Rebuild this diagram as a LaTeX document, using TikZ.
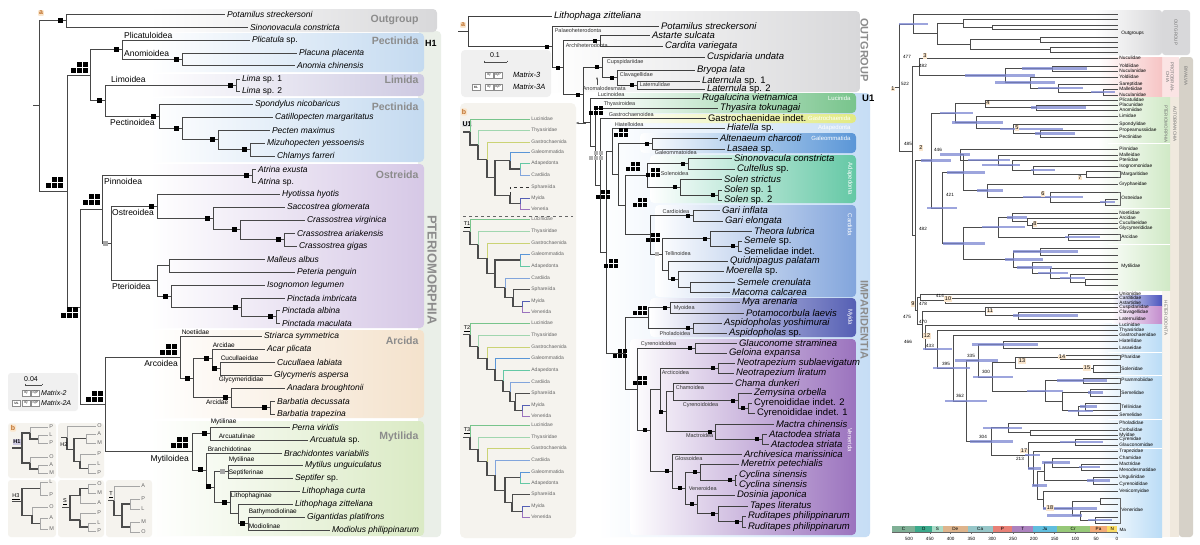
\documentclass[tikz,border=0pt]{standalone}
\usepackage{fontspec}
\setmainfont{Liberation Sans}
\usetikzlibrary{positioning,calc,arrows.meta}

\definecolor{ogGray}{RGB}{216,216,218}
\definecolor{pecBlue}{RGB}{196,218,240}
\definecolor{limLav}{RGB}{206,202,226}
\definecolor{ostLav}{RGB}{214,200,230}
\definecolor{arcTan}{RGB}{244,226,204}
\definecolor{mytGrn}{RGB}{218,234,196}
\definecolor{ptCol}{RGB}{234,239,232}
\definecolor{lblOr}{RGB}{190,110,40}
\definecolor{lblBg}{RGB}{250,230,205}
\definecolor{insBg}{RGB}{245,243,238}
\definecolor{impBlue}{RGB}{198,221,245}
\definecolor{lucGrn}{RGB}{120,196,140}
\definecolor{gasYel}{RGB}{226,234,130}
\definecolor{galBlue}{RGB}{90,150,215}
\definecolor{adTeal}{RGB}{100,200,165}
\definecolor{cdBlue}{RGB}{130,165,220}
\definecolor{myNavy}{RGB}{85,95,180}
\definecolor{vePur}{RGB}{155,115,190}
\definecolor{hpdBlue}{RGB}{125,135,210}
\definecolor{proPink}{RGB}{246,196,196}
\definecolor{ptGrn}{RGB}{208,233,198}
\definecolor{autoCol}{RGB}{240,233,222}
\definecolor{bivCol}{RGB}{214,209,200}
\definecolor{hetBlue}{RGB}{186,220,246}
\definecolor{cdDark}{RGB}{75,85,190}
\definecolor{anPur}{RGB}{195,140,205}
\definecolor{tC}{RGB}{128,176,150}
\definecolor{tO}{RGB}{60,170,140}
\definecolor{tS}{RGB}{170,220,200}
\definecolor{tD}{RGB}{222,180,140}
\definecolor{tCa}{RGB}{150,198,200}
\definecolor{tP}{RGB}{232,128,118}
\definecolor{tT}{RGB}{172,130,190}
\definecolor{tJ}{RGB}{96,190,222}
\definecolor{tK}{RGB}{150,200,120}
\definecolor{tPg}{RGB}{242,170,120}
\definecolor{tN}{RGB}{250,220,100}

\newcommand{\fsz}[1]{\fontsize{#1pt}{#1pt}\selectfont}
\newcommand{\lf}[5][sp]{\coordinate (#2) at (#3,#4); \node[#1,anchor=west] (#2t) at (#2) {#5};}
\NewDocumentCommand{\clade}{O{br} O{#1} m m m m}{%
  \path let \p1=(#5), \p2=(#6) in (#4pt,{0.5*(\y1)+0.5*(\y2)}) coordinate (#3);
  \draw[#1] (#3) |- (#5);
  \draw[#2] (#3) |- (#6);}
\newcommand{\sqb}[2][black]{\fill[#1] ($(#2)+(-8.5,-2.5)$) rectangle ++(5,5);}
\newcommand{\sqm}[2][black]{\fill[#1] ($(#2)+(-7,-2)$) rectangle ++(4,4);}
\newcommand{\qd}[3][black]{\foreach \i/\j in {0/0,1/0,2/0,0/1,1/1}{\fill[#1] ({#2-6*\i-5},{#3-6*\j-5}) rectangle ++(5,5);}}
\newcommand{\qsm}[3][black]{\foreach \i/\j in {0/0,1/0,2/0,0/1,1/1}{\fill[#1] ({#2-5*\i-4},{#3-5*\j-4}) rectangle ++(4,4);}}

\tikzset{
  br/.style={draw=black!72, line width=0.75pt},
  mbr/.style={draw=black!75, line width=0.9pt},
  rbr/.style={draw=black!70, line width=0.6pt},
  ilf/.style={draw=black!35, line width=0.45pt},
  inn/.style={draw=black!70, line width=1.1pt},
  iLu/.style={draw=lucGrn, line width=0.5pt},
  iTh/.style={draw=lucGrn!70, line width=0.5pt},
  iGs/.style={draw=gasYel!90!black, line width=0.5pt},
  iGa/.style={draw=galBlue, line width=0.5pt},
  iAd/.style={draw=adTeal, line width=0.5pt},
  iCa/.style={draw=cdBlue, line width=0.5pt},
  iSp/.style={draw=black!80, line width=0.8pt, dashed},
  iSk/.style={draw=black!70, line width=0.8pt},
  iMy/.style={draw=myNavy, line width=0.8pt},
  iVe/.style={draw=vePur, line width=0.5pt},
  sp/.style={font={\fsz{8.5}\itshape}, inner sep=1.8pt},
  spu/.style={font={\fsz{8.5}}, inner sep=1.8pt},
  msp/.style={font={\fsz{9.5}\itshape}, inner sep=1.8pt},
  mspu/.style={font={\fsz{9.5}}, inner sep=1.8pt},
  sup/.style={font={\fsz{8.5}}, inner sep=1pt},
  fam/.style={font={\fsz{6.5}}, inner sep=0.6pt},
  mfam/.style={font={\fsz{5.5}}, text=black!80, inner sep=0.6pt},
  clade/.style={font={\fsz{10.5}\bfseries}, text=black!45, anchor=east},
  band/.style={font={\fsz{6}}, text=white, anchor=east},
  vband/.style={font={\fsz{6}}, text=white, rotate=-90},
  bl/.style={font={\fsz{5.5}}, text=black!60, inner sep=1.2pt},
  il/.style={font={\fsz{5}}, text=black!60, inner sep=1.2pt},
  rlab/.style={font={\fsz{4.8}}, anchor=west, inner sep=1.2pt},
  rage/.style={font={\fsz{4.6}}, inner sep=0.3pt},
  rid/.style={font={\fsz{5.5}}, fill=lblBg, inner sep=0.6pt},
  hpd/.style={draw=hpdBlue, line width=2.5pt, opacity=0.75},
  lgb/.style={draw=black!45, fill=white, font={\fsz{3.2}}, inner sep=0.4pt, minimum width=8pt, minimum height=6.5pt},
  big/.style={font={\fsz{11}\bfseries}, text=black!45, rotate=-90},
  tax/.style={font={\fsz{4.6}}, inner sep=0.3pt},
  abox/.style={font={\fsz{7}\bfseries}, text=lblOr, fill=lblBg, inner sep=1pt, rounded corners=1pt},
  vsm/.style={font={\fsz{4.5}}, text=black!55, rotate=-90, align=center},
}

\begin{document}
\begin{tikzpicture}[x=1pt,y=-1pt]
\useasboundingbox (0,0) rectangle (1200,544);
\fill[white] (0,0) rectangle (1200,544);

% ===== panel a (left): clade bands
\fill[ptCol,rounded corners=4pt] (418,31) rectangle (441,537);
\shade[left color=white,right color=ogGray,rounded corners=4pt] (150,9) rectangle (437,32);
\shade[left color=white,right color=pecBlue,rounded corners=4pt] (150,33) rectangle (424,72);
\shade[left color=white,right color=limLav,rounded corners=4pt] (150,74) rectangle (424,96);
\shade[left color=white,right color=pecBlue,rounded corners=4pt] (150,98) rectangle (424,162);
\shade[left color=white,right color=ostLav,rounded corners=4pt] (150,164) rectangle (424,328);
\shade[left color=white,right color=arcTan,rounded corners=4pt] (150,330) rectangle (424,418);
\shade[left color=white,right color=mytGrn,rounded corners=4pt] (150,421) rectangle (424,536);

% legend and panel b (left)
\fill[black!6,rounded corners=3pt] (8,373) rectangle (78,411);
\foreach \bx/\by/\ex/\ey in {8/423/56/478, 58/423/104/478, 8/480/56/537, 58/480/104/537, 106/480/152/537}
  {\fill[insBg,rounded corners=3pt] (\bx,\by) rectangle (\ex,\ey);}

% ===== left tree
\lf{lPot}{225}{14}{Potamilus streckersoni}
\lf{lSin}{248}{27}{Sinonovacula constricta}
\lf[spu]{lPli}{250}{40}{\textit{Plicatula} sp.}
\lf{lPla}{297}{53}{Placuna placenta}
\lf{lAno}{295}{65}{Anomia chinensis}
\lf[spu]{lLi1}{240}{79}{\textit{Lima} sp. 1}
\lf[spu]{lLi2}{240}{91}{\textit{Lima} sp. 2}
\lf{lSpo}{253}{104}{Spondylus nicobaricus}
\lf{lCat}{273}{117}{Catillopecten margaritatus}
\lf{lPec}{270}{130}{Pecten maximus}
\lf{lMiz}{265}{143}{Mizuhopecten yessoensis}
\lf{lChl}{275}{156}{Chlamys farreri}
\lf{lAex}{256}{169}{Atrina exusta}
\lf[spu]{lAsp}{256}{182}{\textit{Atrina} sp.}
\lf{lHyo}{280}{194}{Hyotissa hyotis}
\lf{lSac}{285}{207}{Saccostrea glomerata}
\lf{lCvi}{305}{220}{Crassostrea virginica}
\lf{lCar}{295}{233}{Crassostrea ariakensis}
\lf{lCgi}{297}{246}{Crassostrea gigas}
\lf{lMal}{265}{259}{Malleus albus}
\lf{lPet}{295}{272}{Peteria penguin}
\lf{lIso}{265}{285}{Isognomon legumen}
\lf{lPim}{285}{298}{Pinctada imbricata}
\lf{lPal}{280}{310}{Pinctada albina}
\lf{lPma}{280}{323}{Pinctada maculata}
\lf{lStr}{262}{336}{Striarca symmetrica}
\lf{lAca}{265}{349}{Acar plicata}
\lf{lCuc}{275}{362}{Cucullaea labiata}
\lf{lGly}{272}{375}{Glycymeris aspersa}
\lf{lAna}{285}{388}{Anadara broughtonii}
\lf{lBde}{275}{401}{Barbatia decussata}
\lf{lBtr}{275}{414}{Barbatia trapezina}
\lf{lPer}{290}{427}{Perna viridis}
\lf[spu]{lArc}{308}{440}{\textit{Arcuatula} sp.}
\lf{lBra}{282}{453}{Brachidontes variabilis}
\lf{lMyt}{303}{465}{Mytilus unguiculatus}
\lf[spu]{lSep}{293}{478}{\textit{Septifer} sp.}
\lf{lLcu}{300}{491}{Lithophaga curta}
\lf{lLzi}{293}{504}{Lithophaga zitteliana}
\lf{lGig}{305}{517}{Gigantidas platifrons}
\lf{lMod}{330}{530}{Modiolus philippinarum}

\clade{nOut}{66}{lPot}{lSin}
\clade{nAnm}{182}{lPla}{lAno}
\clade{nPli}{122}{lPli}{nAnm}
\clade{nLim}{236}{lLi1}{lLi2}
\clade{nP5}{250}{lMiz}{lChl}
\clade{nP4}{218}{lPec}{nP5}
\clade{nP3}{182}{lCat}{nP4}
\clade{nPec}{159}{lSpo}{nP3}
\clade{nLP}{105}{nLim}{nPec}
\clade{nA}{90}{nPli}{nLP}
\clade{nAtr}{252}{lAex}{lAsp}
\clade{nO4}{284}{lCar}{lCgi}
\clade{nO3}{240}{lCvi}{nO4}
\clade{nO2}{213}{lSac}{nO3}
\clade{nOst}{157}{lHyo}{nO2}
\clade{nMP}{169}{lMal}{lPet}
\clade{nPT4}{276}{lPal}{lPma}
\clade{nPT3}{241}{lPim}{nPT4}
\clade{nPT2}{171}{lIso}{nPT3}
\clade{nPte}{157}{nMP}{nPT2}
\clade{nOP}{111}{nOst}{nPte}
\clade{nB1}{102}{nAtr}{nOP}
\clade{nCG}{220}{lCuc}{lGly}
\clade{nAR3}{212}{lAca}{nCG}
\clade{nAR5}{270}{lBde}{lBtr}
\clade{nAR4}{231}{lAna}{nAR5}
\clade{nAR2}{193}{nAR3}{nAR4}
\clade{nArc}{180}{lStr}{nAR2}
\clade{nMY1}{210}{lPer}{lArc}
\clade{nMYa}{228}{lMyt}{lSep}
\clade{nMYd}{248}{lGig}{lMod}
\clade{nMYc}{238}{lLzi}{nMYd}
\clade{nMYb}{230}{lLcu}{nMYc}
\clade{nMY3}{214}{nMYa}{nMYb}
\clade{nMY2}{206}{lBra}{nMY3}
\clade{nMyt}{192}{nMY1}{nMY2}
\clade{nB2}{105}{nArc}{nMyt}
\clade{nB}{80}{nB1}{nB2}
\clade{nI}{67}{nA}{nB}
\clade{nRoot}{39}{nOut}{nI}
\draw[br] (nRoot) -- ++(-6,0);

% support squares
\foreach \n in {nOut,nPli,nAnm,nLim,nLP,nPec,nP3,nP4,nP5,nAtr,nOst,nO2,nO3,nO4,nPT2,nPT3,nPT4,nAR2,nAR3,nCG,nAR4,nAR5,nMY1,nMY2,nMY3,nMYb,nMYd}{\sqb{\n}}
\sqb[black!35]{nOP}
\sqb[black!35]{nMYa}
\qd{88}{73}
\qd{63}{188}
\qd{100}{205}
\qd{78}{318}
\qd{103}{402}
\qd{177}{355}
\qd{188}{448}

% taxon rank labels
\node[sup,anchor=south west] (tPlic) at (123,39.5) {Plicatuloidea};
\node[sup,anchor=south west] (tAnom) at (123,58) {Anomioidea};
\node[sup,anchor=south west] (tLimo) at (110,84) {Limoidea};
\node[sup,anchor=north west] (tPect) at (109,118) {Pectinoidea};
\node[sup,anchor=north west] (tPinn) at (103,177) {Pinnoidea};
\node[sup,anchor=north west] (tOstr) at (111,208) {Ostreoidea};
\node[sup,anchor=north west] (tPter) at (111,282) {Pterioidea};
\node[fam,anchor=south west] (tNoet) at (181,335) {Noetiidae};
\node[sup,anchor=north east] (tArco) at (179,359) {Arcoidea};
\node[fam,anchor=south west] (tArc1) at (212,348.5) {Arcidae};
\node[fam,anchor=south west] (tCucu) at (220,361) {Cucullaeidae};
\node[fam,anchor=north west] (tGlyc) at (218,376) {Glycymerididae};
\node[fam,anchor=north east] (tArc2) at (229,399) {Arcidae};
\node[sup,anchor=north east] (tMyto) at (190,454) {Mytiloidea};
\node[fam,anchor=south west] (tMyt1) at (210,426) {Mytilinae};
\node[fam,anchor=south west] (tArcu) at (218,439.5) {Arcuatulinae};
\node[fam,anchor=south west] (tBran) at (207,452) {Branchidotinae};
\node[fam,anchor=south west] (tMyt2) at (228,464) {Mytilinae};
\node[fam,anchor=south west] (tSept) at (228,477) {Septiferinae};
\node[fam,anchor=north west] (tLith) at (230,492) {Lithophaginae};
\node[fam,anchor=south west] (tBath) at (248,516) {Bathymodiolinae};
\node[fam,anchor=south west] (tModi) at (248,529) {Modiolinae};

\node[clade] (cOut) at (422,20) {Outgroup};
\node[clade] (cPec1) at (422,41) {Pectinida};
\node[clade] (cLim) at (422,80) {Limida};
\node[clade] (cPec2) at (422,107) {Pectinida};
\node[clade] (cOst) at (422,175) {Ostreida};
\node[clade] (cArc) at (422,341) {Arcida};
\node[clade] (cMyt) at (422,437) {Mytilida};
\node[font={\fsz{9}\bfseries}, anchor=west, inner sep=0pt] (cH1) at (425,43) {H1};
\node[big,font={\fsz{13}\bfseries}] (cPterio) at (432,270) {PTERIOMORPHIA};
\node[abox] (aL) at (41,13) {a};

% legend (left)
\node[font={\fsz{7}}] (sbL) at (31,379) {0.04};
\draw[black!70] (25,385) -- (42,385) (25,383.5) -- (25,385) (42,383.5) -- (42,385);
\node[lgb] (lq1) at (26,393) {IQ};
\node[lgb] (lp1) at (35.5,393) {IQP};
\node[font={\fsz{7}\itshape}, anchor=west, inner sep=1pt] (lm2) at (40,393) {Matrix-2};
\node[lgb] (lm0) at (16.5,403) {ML};
\node[lgb] (lq2) at (26,403) {IQ};
\node[lgb] (lp2) at (35.5,403) {IQP};
\node[font={\fsz{7}\itshape}, anchor=west, inner sep=1pt] (lm2a) at (40,403) {Matrix-2A};

% panel b (left): hypotheses
\node[abox] (bL) at (13,428) {b};
\lf[bl]{hA1}{48}{427}{P}
\lf[bl]{hA2}{48}{435}{L}
\lf[bl]{hA3}{48}{443}{P}
\lf[bl]{hA4}{48}{457}{O}
\lf[bl]{hA5}{48}{465}{A}
\lf[bl]{hA6}{48}{473}{M}
\clade[ilf]{h1a}{38}{hA2}{hA3}
\clade[ilf][inn]{h1b}{30}{hA1}{h1a}
\clade[ilf]{h1c}{38}{hA5}{hA6}
\clade[ilf][inn]{h1d}{30}{hA4}{h1c}
\clade[inn]{h1r}{22}{h1b}{h1d}
\draw[inn] (h1r) -- ++(-10,0);
\node[font={\fsz{5.5}\bfseries}, fill=limLav, inner sep=0.8pt] (bH1) at (17,442) {H1};
\lf[bl]{hB1}{96}{426}{O}
\lf[bl]{hB2}{96}{434}{A}
\lf[bl]{hB3}{96}{443}{M}
\lf[bl]{hB4}{96}{454}{P}
\lf[bl]{hB5}{96}{464}{L}
\lf[bl]{hB6}{96}{473}{P}
\clade[ilf]{h2a}{86}{hB2}{hB3}
\clade[ilf]{h2b}{88}{hB5}{hB6}
\clade[ilf][inn]{h2c}{80}{hB4}{h2b}
\clade[inn]{h2d}{74}{h2a}{h2c}
\clade[ilf][inn]{h2r}{67}{hB1}{h2d}
\draw[inn] (h2r) -- ++(-6,0);
\node[font={\fsz{5.5}}, inner sep=0.5pt] (bH2) at (64,445) {H2};
\lf[bl]{hC1}{48}{482}{L}
\lf[bl]{hC2}{48}{495}{P}
\lf[bl]{hC3}{48}{507}{O}
\lf[bl]{hC4}{48}{518}{A}
\lf[bl]{hC5}{48}{529}{M}
\clade[ilf]{h3a}{40}{hC1}{hC2}
\clade[ilf]{h3b}{40}{hC4}{hC5}
\clade[ilf][inn]{h3c}{32}{hC3}{h3b}
\clade[inn]{h3r}{22}{h3a}{h3c}
\draw[inn] (h3r) -- ++(-10,0);
\node[font={\fsz{5.5}}, inner sep=0.5pt] (bH3) at (16,497) {\underline{H3}};
\lf[bl]{sA1}{96}{484}{O}
\lf[bl]{sA2}{96}{493}{M}
\lf[bl]{sA3}{96}{503}{A}
\lf[bl]{sA4}{96}{513}{P}
\lf[bl]{sA5}{96}{523}{L}
\lf[bl]{sA6}{96}{531}{P}
\clade[ilf]{bsa}{88}{sA1}{sA2}
\clade[inn][ilf]{bsb}{80}{bsa}{sA3}
\clade[ilf]{bsc}{88}{sA5}{sA6}
\clade[ilf][inn]{bsd}{80}{sA4}{bsc}
\clade[inn]{bsr}{70}{bsb}{bsd}
\draw[inn] (bsr) -- ++(-8,0);
\node[font={\fsz{5.5}}, inner sep=0.5pt] (bS) at (65,502) {\underline{S}};
\lf[bl]{tA1}{140}{486}{A}
\lf[bl]{tA2}{140}{499}{P}
\lf[bl]{tA3}{140}{509}{L}
\lf[bl]{tA4}{140}{522}{M}
\lf[bl]{tA5}{140}{532}{O}
\clade[ilf]{bta}{130}{tA2}{tA3}
\clade[ilf]{btb}{130}{tA4}{tA5}
\clade[inn]{btc}{122}{bta}{btb}
\clade[ilf][inn]{btr}{114}{tA1}{btc}
\draw[inn] (btr) -- ++(-6,0);
\node[font={\fsz{5.5}}, inner sep=0.5pt] (bT) at (111,495) {\underline{T}};

% ===== panel a (middle): bands
\shade[left color=white,right color=ogGray,rounded corners=4pt] (545,11) rectangle (860,92);
\shade[left color=white,right color=impBlue,rounded corners=4pt] (598,93) rectangle (870,537);
\shade[left color=white,right color=lucGrn,rounded corners=4pt] (598,93) rectangle (856,113);
\shade[left color=white,right color=gasYel,rounded corners=4pt] (610,114) rectangle (856,123);
\shade[left color=white,right color=galBlue,rounded corners=4pt] (640,133) rectangle (856,153);
\shade[left color=white,right color=adTeal,rounded corners=4pt] (650,155) rectangle (856,203);
\shade[left color=white,right color=cdBlue,rounded corners=4pt] (655,205) rectangle (856,297);
\shade[left color=white,right color=myNavy,rounded corners=4pt] (650,298) rectangle (856,337);
\shade[left color=white,right color=vePur,rounded corners=4pt] (630,339) rectangle (856,535);
\node[band] (bdLuc) at (854,98) {Lucinida};
\node[band] (bdGas) at (854,118.5) {Gastrochaenida};
\node[band] (bdAd1) at (854,128) {Adapedonta};
\node[band] (bdGal) at (854,138) {Galeommatida};
\node[vband] (bdAd2) at (850,179) {Adapedonta};
\node[vband] (bdCar) at (850,225) {Cardiida};
\node[vband] (bdMyi) at (850,317) {Myida};
\node[vband] (bdVen) at (850,440) {Venerida};
\node[big] (bgOut) at (864.5,50) {OUTGROUP};
\node[big] (bgImp) at (864.5,320) {IMPARIDENTIA};
\node[font={\fsz{9.5}\bfseries}, anchor=west, inner sep=0pt] (bgU1) at (862,98) {U1};

% legend (middle) and panel b box
\fill[black!6,rounded corners=4pt] (461,50) rectangle (551,97);
\fill[insBg,rounded corners=5pt] (460,103) rectangle (576,538);
\node[font={\fsz{7}}] (sbM) at (495,55) {0.1};
\draw[black!70] (484,62) -- (507,62) (484,60.5) -- (484,62) (507,60.5) -- (507,62);
\node[lgb] (mq1) at (489,75) {IQ};
\node[lgb] (mp1) at (498,75) {IQP};
\node[font={\fsz{7.5}\itshape}, anchor=west, inner sep=1pt] (mm3) at (512,75) {Matrix-3};
\node[lgb] (mm0) at (476,87) {ML};
\node[lgb] (mq2) at (489,87) {IQ};
\node[lgb] (mp2) at (498,87) {IQP};
\node[font={\fsz{7.5}\itshape}, anchor=west, inner sep=1pt] (mm3a) at (512,87) {Matrix-3A};

% ===== middle tree
\lf[msp]{mZit}{552}{16}{Lithophaga zitteliana}
\lf[msp]{mPot}{659}{26}{Potamilus streckersoni}
\lf[msp]{mAst}{650}{35}{Astarte sulcata}
\lf[msp]{mCar}{663}{46}{Cardita variegata}
\lf[msp]{mCus}{705}{57}{Cuspidaria undata}
\lf[msp]{mBry}{695}{70}{Bryopa lata}
\lf[mspu]{mLa1}{700}{81}{\textit{Laternula} sp. 1}
\lf[mspu]{mLa2}{705}{89}{\textit{Laternula} sp. 2}
\lf[msp]{mRug}{700}{98}{Rugalucina vietnamica}
\lf[msp]{mThy}{718}{108}{Thyasira tokunagai}
\lf[mspu]{mGas}{706}{118}{Gastrochaenidae indet.}
\lf[mspu]{mHia}{725}{128}{\textit{Hiatella} sp.}
\lf[msp]{mAlt}{718}{138}{Altenaeum charcoti}
\lf[mspu]{mLas}{725}{149}{\textit{Lasaea} sp.}
\lf[msp]{mSin}{732}{158}{Sinonovacula constricta}
\lf[mspu]{mCul}{735}{169}{\textit{Cultellus} sp.}
\lf[msp]{mSst}{722}{179}{Solen strictus}
\lf[mspu]{mS1}{722}{190}{\textit{Solen} sp. 1}
\lf[mspu]{mS2}{722}{200}{\textit{Solen} sp. 2}
\lf[msp]{mGin}{720}{210}{Gari inflata}
\lf[msp]{mGel}{723}{221}{Gari elongata}
\lf[msp]{mThe}{752}{231}{Theora lubrica}
\lf[mspu]{mSem}{742}{241}{\textit{Semele} sp.}
\lf[mspu]{mSmi}{742}{251}{Semelidae indet.}
\lf[msp]{mQui}{728}{261}{Quidnipagus palatam}
\lf[mspu]{mMoe}{724}{271}{\textit{Moerella} sp.}
\lf[msp]{mScr}{735}{282}{Semele crenulata}
\lf[msp]{mMac}{730}{292}{Macoma calcarea}
\lf[msp]{mMya}{740}{302}{Mya arenaria}
\lf[msp]{mPol}{744}{313}{Potamocorbula laevis}
\lf[msp]{mAsy}{722}{323}{Aspidopholas yoshimurai}
\lf[mspu]{mAsp}{727}{333}{\textit{Aspidopholas} sp.}
\lf[msp]{mGla}{737}{343}{Glauconome straminea}
\lf[msp]{mGex}{727}{353}{Geloina expansa}
\lf[msp]{mNsu}{735}{363}{Neotrapezium sublaevigatum}
\lf[msp]{mNli}{734}{373}{Neotrapezium liratum}
\lf[msp]{mCha}{733}{383}{Chama dunkeri}
\lf[msp]{mZem}{752}{393}{Zemysina orbella}
\lf[mspu]{mCy2}{752}{403}{Cyrenoididae indet. 2}
\lf[mspu]{mCy1}{755}{413}{Cyrenoididae indet. 1}
\lf[msp]{mMch}{774}{424}{Mactra chinensis}
\lf[msp]{mAt1}{767}{434}{Atactodea striata}
\lf[msp]{mAt2}{769}{444}{Atactodea striata}
\lf[msp]{mArc}{742}{454}{Archivesica marissinica}
\lf[msp]{mMer}{739}{464}{Meretrix petechialis}
\lf[msp]{mCs1}{737}{475}{Cyclina sinensis}
\lf[msp]{mCs2}{737}{485}{Cyclina sinensis}
\lf[msp]{mDos}{735}{495}{Dosinia japonica}
\lf[msp]{mTap}{748}{506}{Tapes literatus}
\lf[msp]{mRu1}{746}{516}{Ruditapes philippinarum}
\lf[msp]{mRu2}{746}{527}{Ruditapes philippinarum}

\clade[mbr]{mnA3}{637}{mLa1}{mLa2}
\clade[mbr]{mnA2}{617}{mBry}{mnA3}
\clade[mbr]{mnA1}{602}{mCus}{mnA2}
\clade[mbr]{mnArch}{600}{mAst}{mCar}
\clade[mbr]{mnGal}{652}{mAlt}{mLas}
\clade[mbr]{mnSC}{688}{mSin}{mCul}
\clade[mbr]{mnSsp}{718}{mS1}{mS2}
\clade[mbr]{mnSol}{680}{mSst}{mnSsp}
\clade[mbr]{mnAdap}{647}{mnSC}{mnSol}
\clade[mbr]{mnGari}{693}{mGin}{mGel}
\clade[mbr]{mnSem}{738}{mSem}{mSmi}
\clade[mbr]{mnThe}{710}{mThe}{mnSem}
\clade[mbr]{mnT5}{690}{mScr}{mMac}
\clade[mbr]{mnT4}{678}{mMoe}{mnT5}
\clade[mbr]{mnT3}{668}{mQui}{mnT4}
\clade[mbr]{mnTel}{662}{mnThe}{mnT3}
\clade[mbr]{mnCard}{650}{mnGari}{mnTel}
\clade[mbr]{mnAC}{625}{mnAdap}{mnCard}
\clade[mbr]{mnGAC}{618}{mnGal}{mnAC}
\clade[mbr]{mnHGAC}{612}{mHia}{mnGAC}
\clade[mbr]{mnMyo}{670}{mMya}{mPol}
\clade[mbr]{mnPho}{693}{mAsy}{mAsp}
\clade[mbr]{mnMyida}{648}{mnMyo}{mnPho}
\clade[mbr]{mnCyr}{695}{mGla}{mGex}
\clade[mbr]{mnNeo}{718}{mNsu}{mNli}
\clade[mbr]{mnCyb}{748}{mCy2}{mCy1}
\clade[mbr]{mnZem}{738}{mZem}{mnCyb}
\clade[mbr]{mnCha}{673}{mCha}{mnZem}
\clade[mbr]{mnAt}{762}{mAt1}{mAt2}
\clade[mbr]{mnMac}{715}{mMch}{mnAt}
\clade[mbr]{mnCM}{666}{mnCha}{mnMac}
\clade[mbr]{mnACM}{660}{mnNeo}{mnCM}
\clade[mbr]{mnCyc}{735}{mCs1}{mCs2}
\clade[mbr]{mnMer}{700}{mMer}{mnCyc}
\clade[mbr]{mnRud}{742}{mRu1}{mRu2}
\clade[mbr]{mnTap}{718}{mTap}{mnRud}
\clade[mbr]{mnDos}{697}{mDos}{mnTap}
\clade[mbr]{mnVen}{685}{mnMer}{mnDos}
\clade[mbr]{mnGlo}{672}{mArc}{mnVen}
\clade[mbr]{mnV3}{650}{mnACM}{mnGlo}
\clade[mbr]{mnVener}{637}{mnCyr}{mnV3}
\clade[mbr]{mnMV}{625}{mnMyida}{mnVener}
\clade[mbr]{mnBig}{606}{mnHGAC}{mnMV}
\clade[mbr]{mnGas}{600}{mGas}{mnBig}
\clade[mbr]{mnThy}{595}{mThy}{mnGas}
\clade[mbr]{mnLuc}{590}{mRug}{mnThy}
\clade[mbr]{mnM3}{583}{mnA1}{mnLuc}
\clade[mbr]{mnM2}{563}{mnArch}{mnM3}
\clade[mbr]{mnM1}{552}{mPot}{mnM2}
\clade[mbr]{mnR}{468}{mZit}{mnM1}
\draw[mbr] (mnR) -- ++(-10,0);
\node[abox] (aM) at (463,25) {a};

\foreach \n in {mnM1,mnM2,mnArch,mnM3,mnA1,mnA2,mnA3,mnGal,mnSC,mnSol,mnSsp,mnGari,mnThe,mnSem,mnT4,mnMyo,mnPho,mnCyr,mnNeo,mnZem,mnCyb,mnMac,mnAt,mnMer,mnCyc,mnVen,mnDos,mnTap,mnRud,mnGlo,mnV3,mnCM}{\sqm{\n}}
\sqm[black!30]{mnTel}
\qsm{603}{115}
\qsm{628}{137}
\qsm[black!30]{603}{160}
\qsm{640}{171}
\qsm{660}{177}
\qsm{610}{199}
\qsm{647}{207}
\qsm{660}{242}
\qsm{618}{268}
\qsm{647}{315}
\qsm{627}{358}
\qsm{647}{385}

\node[mfam,anchor=north west] (mtPal) at (554,28) {Palaeoheterodonta};
\node[mfam,anchor=north west] (mtArc) at (565,42.5) {Archiheterodonta};
\node[mfam,anchor=north west] (mtCus) at (606,58.5) {Cupspidariidae};
\node[mfam,anchor=north west] (mtCla) at (619,71.5) {Clavagellidae};
\node[mfam,anchor=west] (mtLat) at (639,85) {Laternulidae};
\node[mfam,anchor=north west] (mtAno) at (582,86) {Anomalodesmata};
\coordinate (anoA) at (597,85);
\coordinate (anoB) at (597,77);
\draw[-{Stealth[length=2.5pt]}, black!70, line width=0.4pt] (anoA) -- (anoB);
\node[mfam,anchor=south west] (mtLuc) at (597,97) {Lucinoidea};
\node[mfam,anchor=south west] (mtThy) at (603,107) {Thyasiroidea};
\node[mfam,anchor=south west] (mtGas) at (608,117) {Gastrochaenoidea};
\node[mfam,anchor=south west] (mtHia) at (614,127) {Hiatelloidea};
\node[mfam,anchor=north west] (mtGal) at (654,150) {Galeommatoidea};
\node[mfam,anchor=west] (mtSol) at (660,174) {Solenoidea};
\node[mfam,anchor=south east] (mtCar) at (690,214) {Cardioidea};
\node[mfam,anchor=west] (mtTel) at (664,254) {Tellinoidea};
\node[mfam,anchor=west] (mtMyo) at (673,308) {Myoidea};
\node[mfam,anchor=north east] (mtPho) at (691,331) {Pholadoidea};
\node[mfam,anchor=south west] (mtCy1) at (640,347) {Cyrenoidoidea};
\node[mfam,anchor=north west] (mtArt) at (661,370) {Arcticoidea};
\node[mfam,anchor=north west] (mtCha) at (675,385) {Chamoidea};
\node[mfam,anchor=north west] (mtCy2) at (682,402) {Cyrenoidoidea};
\node[mfam,anchor=north east] (mtMac) at (714,433) {Mactroidea};
\node[mfam,anchor=north west] (mtGlo) at (674,456) {Glossoidea};
\node[mfam,anchor=west] (mtVen) at (688,489) {Veneroidea};
\coordinate (arrA) at (586,123);
\coordinate (arrB) at (576,123);
\draw[-{Stealth[length=3pt]}, black!70, line width=0.5pt] (arrA) -- (arrB);

% ===== middle panel b: constraint trees
\node[abox] (bM) at (464,112) {b};
\node[font={\fsz{7}\bfseries}, fill=black!12, inner sep=0.8pt] (uLab) at (467,124) {U1};
\draw[black!60, dashed, line width=0.6pt] (463,216) -- (573,216);
\node[font={\fsz{5.5}}, inner sep=0.5pt] (t1Lab) at (467,225) {\underline{T1}};
\node[font={\fsz{5.5}}, inner sep=0.5pt] (t2Lab) at (467,329) {\underline{T2}};
\node[font={\fsz{5.5}}, inner sep=0.5pt] (t3Lab) at (467,431) {\underline{T3}};

\lf[il]{uLu}{530}{119}{Lucinidae}
\lf[il]{uTh}{530}{130}{Thyasiridae}
\lf[il]{uGs}{530}{142}{Gastrochaenida}
\lf[il]{uGl}{530}{152}{Galeommatida}
\lf[il]{uAd}{530}{163}{Adapedonta}
\lf[il]{uCa}{530}{175}{Cardiida}
\lf[il]{uSp}{530}{187}{Sphareiida}
\lf[il]{uMy}{530}{198}{Myida}
\lf[il]{uVe}{530}{209}{Veneria}
\clade[iAd][iCa]{uf}{520}{uAd}{uCa}
\clade[iGa][inn]{ue}{510}{uGl}{uf}
\clade[iMy][iVe]{uh}{520}{uMy}{uVe}
\clade[iSp][inn]{ug}{510}{uSp}{uh}
\clade[inn]{ud}{495}{ue}{ug}
\clade[iGs][inn]{uc}{487}{uGs}{ud}
\clade[iTh][inn]{ub}{478}{uTh}{uc}
\clade[iLu][inn]{ua}{470}{uLu}{ub}
\draw[inn] (ua) -- ++(-7,0);

\lf[il]{taLu}{530}{219}{Lucinidae}
\lf[il]{taTh}{530}{231}{Thyasiridae}
\lf[il]{taGs}{530}{243}{Gastrochaenida}
\lf[il]{taGl}{530}{254}{Galeommatida}
\lf[il]{taAd}{530}{266}{Adapedonta}
\lf[il]{taCa}{530}{278}{Cardiida}
\lf[il]{taSp}{530}{289}{Sphareiida}
\lf[il]{taMy}{530}{301}{Myida}
\lf[il]{taVe}{530}{312}{Venerida}
\clade[iGa][iAd]{tae}{520}{taGl}{taAd}
\clade[iMy][iVe]{tah}{522}{taMy}{taVe}
\clade[iSk][inn]{tag}{513}{taSp}{tah}
\clade[iCa][inn]{taf}{505}{taCa}{tag}
\clade[inn]{tad}{495}{tae}{taf}
\clade[iGs][inn]{tac}{487}{taGs}{tad}
\clade[iTh][inn]{tab}{478}{taTh}{tac}
\clade[iLu][inn]{taa}{470}{taLu}{tab}
\draw[inn] (taa) -- ++(-7,0);

\lf[il]{tbLu}{530}{323}{Lucinidae}
\lf[il]{tbTh}{530}{335}{Thyasiridae}
\lf[il]{tbGs}{530}{347}{Gastrochaenida}
\lf[il]{tbGl}{530}{358}{Galeommatida}
\lf[il]{tbAd}{530}{370}{Adapedonta}
\lf[il]{tbCa}{530}{382}{Cardiida}
\lf[il]{tbSp}{530}{393}{Sphareiida}
\lf[il]{tbMy}{530}{405}{Myida}
\lf[il]{tbVe}{530}{416}{Venerida}
\clade[iMy][iVe]{tbh}{522}{tbMy}{tbVe}
\clade[iSk][inn]{tbg}{515}{tbSp}{tbh}
\clade[iCa][inn]{tbf}{510}{tbCa}{tbg}
\clade[iAd][inn]{tbe}{503}{tbAd}{tbf}
\clade[iGa][inn]{tbd}{495}{tbGl}{tbe}
\clade[iGs][inn]{tbc}{487}{tbGs}{tbd}
\clade[iTh][inn]{tbb}{478}{tbTh}{tbc}
\clade[iLu][inn]{tba}{470}{tbLu}{tbb}
\draw[inn] (tba) -- ++(-7,0);

\lf[il]{tcLu}{530}{425}{Lucinidae}
\lf[il]{tcTh}{530}{437}{Thyasiridae}
\lf[il]{tcGs}{530}{448}{Gastrochaenida}
\lf[il]{tcCa}{530}{460}{Cardiida}
\lf[il]{tcGl}{530}{472}{Galeommatida}
\lf[il]{tcAd}{530}{483}{Adapedonta}
\lf[il]{tcSp}{530}{494}{Sphareiida}
\lf[il]{tcMy}{530}{506}{Myida}
\lf[il]{tcVe}{530}{517}{Venerida}
\clade[iGa][iAd]{tce}{520}{tcGl}{tcAd}
\clade[iMy][iVe]{tch}{522}{tcMy}{tcVe}
\clade[iSk][inn]{tcg}{512}{tcSp}{tch}
\clade[inn]{tcf}{505}{tce}{tcg}
\clade[iCa][inn]{tcd}{495}{tcCa}{tcf}
\clade[iGs][inn]{tcc}{487}{tcGs}{tcd}
\clade[iTh][inn]{tcb}{478}{tcTh}{tcc}
\clade[iLu][inn]{tca}{470}{tcLu}{tcb}
\draw[inn] (tca) -- ++(-7,0);

% ===== right panel: timetree bands
\shade[left color=white,right color=ogGray,rounded corners=3pt] (1095,10) rectangle (1162,55);
\fill[ogGray,rounded corners=3pt] (1162,10) rectangle (1190,55);
\fill[bivCol,rounded corners=3pt] (1179,57) rectangle (1193,537);
\fill[autoCol] (1170,97) rectangle (1179,537);
\fill[proPink!45] (1162,57) rectangle (1179,97);
\shade[left color=white,right color=proPink] (1098,57) rectangle (1162,97);
\shade[left color=white,right color=ptGrn] (1098,97) rectangle (1170,290);
\fill[autoCol!50] (1162,291) rectangle (1170,537);
\shade[left color=white,right color=hetBlue] (1098,323) rectangle (1162,537);
\shade[left color=white,right color=cdDark] (1112,295) rectangle (1162,306);
\shade[left color=white,right color=anPur] (1112,306) rectangle (1162,323);
\foreach \y in {143,208,244} {\draw[white, line width=0.8pt] (1108,\y) -- (1170,\y);}
\foreach \y in {352,375,419,448} {\draw[white, line width=0.8pt] (1108,\y) -- (1162,\y);}
\node[vsm] (vOut) at (1176,32) {OUTGROUP};
\node[vsm] (vBiv) at (1186,76) {BIVALVIA};
\node[vsm] (vPro) at (1170,77) {PROTOBRAN-\\CHIA};
\node[vsm] (vAut) at (1175,124) {AUTOBRANCHIA};
\node[vsm] (vPte) at (1166,124) {PTERIOMORPHIA};
\node[vsm] (vHet) at (1166,318) {HETERODONTA};

% right leaves
\foreach \n/\y in {ro1/14,ro2/19,ro3/25,ro4/29,ro5/37,ro6/42,ro7/47,ro8/52,r19a/171,r19/177,r21/192,r22/199,r23/205,r28/234,r29/240,r30/248,r31/255,r32/262,r33/268,r34/274,r35/279,r36/285,r48/355,r49/359,r50/365,r51/372,r52/378,r53/383,r54/389,r55/396,r56/403,r57/410,r71/498,r72/504,r73/511,r74/517,r75/523}
  {\coordinate (\n) at (1118,\y);}
\foreach \n/\y/\t in {r1/58/Nuculidae, r2/66/Yoldiidae, r3/71/Nuculanidae, r4/77/Yoldiidae, r5/84/Sareptidae, r6/89/Malletiidae, r7/95/Nuculanidae, r8/100/Plicatulidae, r9/105/Placunidae, r10/110/Anomiidae, r11/116/Limidae, r12/124/Spondylidae, r13/130/Propeamussiidae, r14/137/Pectinidae, r15/149/Pinnidae, r16/155/Malleidae, r17/160/Pteriidae, r18/166/Isognomonidae, r20/184/Gryphaeidae, r24/213/Noetiidae, r25/218/Arcidae, r26/223/Cucullaeidae, r27/228/Glycymerididae, r37/294/Unionidae, r38/298/Carditidae, r39/303/Astartidae, r40/307/Cuspidariidae, r41/312/Clavagellidae, r42/319/Laternulidae, r43/325/Lucinidae, r44/330/Thyasiridae, r45/335/Gastrochaenidae, r46/341/Hiatellidae, r47/348/Lasaeidae, r58/415/Semelidae, r59/423/Pholadidae, r60/430/Corbulidae, r61/435/Myidae, r62/439/Cyrenidae, r63/445/Glauconomidae, r64/451/Trapezidae, r65/458/Chamidae, r66/464/Mactridae, r67/470/Mesodesmatidae, r68/477/Ungulinidae, r69/484/Cyrenoididae, r70/491/Vesicomyidae}
  {\coordinate (\n) at (1118,\y); \node[rlab] (t\n) at (\n) {\t};}
\foreach \y/\t in {33/Outgroups, 174/Margaritidae, 198/Ostreidae, 237/Arcidae, 266/Mytilidae, 357/Pharidae, 369/Solenidae, 380/Psammobiidae, 393/Semelidae, 407/Tellinidae, 510/Veneridae}
  {\node[rlab] (g\y) at (1120,\y) {\t};}
\foreach \a/\b in {171/177,192/205,234/240,355/359,365/372,378/383,389/396,403/410,498/523}
  {\draw[black!60, line width=0.4pt] (1118,\a) -- (1120,\a) -- (1120,\b) -- (1118,\b);}

% right tree
\clade[rbr]{oE}{992}{ro3}{ro4}
\clade[rbr]{oC}{963}{ro2}{oE}
\clade[rbr]{oF}{1040}{ro5}{ro6}
\clade[rbr]{oG}{1050}{ro7}{ro8}
\clade[rbr]{oD}{970}{oF}{oG}
\clade[rbr]{oB}{937}{oC}{oD}
\clade[rbr]{oA}{913}{ro1}{oB}
\clade[rbr]{pA}{1052}{r2}{r3}
\clade[rbr]{pD}{1103}{r6}{r7}
\clade[rbr]{pC}{1058}{r5}{pD}
\clade[rbr]{pB}{1030}{r4}{pC}
\clade[rbr]{pN}{1005}{pA}{pB}
\clade[rbr]{p3}{919}{r1}{pN}
\clade[rbr]{pa}{1036}{r9}{r10}
\clade[rbr]{pt4}{985}{r8}{pa}
\clade[rbr]{pec2}{1040}{r13}{r14}
\clade[rbr]{pec}{1013}{r12}{pec2}
\clade[rbr]{lp}{976}{r11}{pec}
\clade[rbr]{pl}{955}{pt4}{lp}
\clade[rbr]{m7}{1086}{r19a}{r19}
\clade[rbr]{pg3}{1033}{r18}{m7}
\clade[rbr]{pg2}{1012}{r17}{pg3}
\clade[rbr]{pg}{998}{r16}{pg2}
\clade[rbr]{pp}{960}{r15}{pg}
\clade[rbr]{os7}{1105}{r22}{r23}
\clade[rbr]{os6}{1050}{r21}{os7}
\clade[rbr]{os}{987}{r20}{os6}
\clade[rbr]{po}{963}{pp}{os}
\clade[rbr]{cg}{1032}{r26}{r27}
\clade[rbr]{ar8}{1027}{r25}{cg}
\clade[rbr]{ar1}{1012}{r24}{ar8}
\clade[rbr]{ar2}{1068}{r28}{r29}
\clade[rbr]{ar}{998}{ar1}{ar2}
\clade[rbr]{myE}{1085}{r35}{r36}
\clade[rbr]{myD}{1070}{r34}{myE}
\clade[rbr]{myC}{1050}{r33}{myD}
\clade[rbr]{myB}{1032}{r32}{myC}
\clade[rbr]{myA}{1040}{r30}{r31}
\clade[rbr]{my}{1013}{myA}{myB}
\clade[rbr]{am}{963}{ar}{my}
\clade[rbr]{pom}{942}{po}{am}
\clade[rbr]{pteri}{931}{pl}{pom}
\clade[rbr]{h10}{945}{r38}{r39}
\clade[rbr]{h9}{920}{r37}{h10}
\clade[rbr]{cl}{1018}{r41}{r42}
\clade[rbr]{h11}{985}{r40}{cl}
\clade[rbr]{ihl}{1003}{r46}{r47}
\clade[rbr]{ph14}{1060}{r48}{r49}
\clade[rbr]{sol15}{1093}{r50}{r51}
\clade[rbr]{i13}{1015}{ph14}{sol15}
\clade[rbr]{psg}{1083}{r52}{r53}
\clade[rbr]{sem1}{1090}{r54}{r55}
\clade[rbr]{tel1}{1085}{r56}{r57}
\clade[rbr]{tel}{1078}{tel1}{r58}
\clade[rbr]{st}{1062}{sem1}{tel}
\clade[rbr]{icard}{1045}{psg}{st}
\clade[rbr]{i300}{992}{i13}{icard}
\clade[rbr]{i335}{978}{ihl}{i300}
\clade[rbr]{cm}{1030}{r60}{r61}
\clade[rbr]{myida}{1008}{r59}{cm}
\clade[rbr]{cyg}{1075}{r62}{r63}
\clade[rbr]{mm}{1081}{r66}{r67}
\clade[rbr]{vcmm}{1052}{r65}{mm}
\clade[rbr]{vuc}{1093}{r68}{r69}
\clade[rbr]{v4}{1044}{vcmm}{vuc}
\clade[rbr]{veA}{1100}{r71}{r72}
\clade[rbr]{veC}{1095}{r74}{r75}
\clade[rbr]{veB}{1080}{r73}{veC}
\clade[rbr]{vener}{1072}{veA}{veB}
\clade[rbr]{v18}{1043}{r70}{vener}
\clade[rbr]{v3}{1037}{v4}{v18}
\clade[rbr]{v2}{1033}{r64}{v3}
\clade[rbr]{v17}{1028}{cyg}{v2}
\clade[rbr]{i304}{991}{myida}{v17}
\clade[rbr]{i362}{966}{i335}{i304}
\clade[rbr]{i395}{953}{r45}{i362}
\clade[rbr]{i433}{937}{r44}{i395}
\clade[rbr]{i12}{925}{r43}{i433}
\clade[rbr]{hai}{922}{h11}{i12}
\clade[rbr]{hhet}{917}{h9}{hai}
\clade[rbr]{n482}{915}{pteri}{hhet}
\clade[rbr]{n2}{912}{p3}{n482}
\clade[rbr]{rt}{899}{oA}{n2}
\draw[rbr] (rt) -- ++(-4,0);

% node-age intervals
\foreach \n/\a/\b in {oA/14/15, pN/40/30, pA/30/35, pB/35/25, pC/20/25, pD/12/12, pl/15/18, lp/24/27, pa/5/50, pec/13/50, pec2/5/35, pteri/10/20, pom/15/15, pp/20/10, pg/30/12, pg2/30/8, pg3/2/22, po/16/22, os/10/16, os6/27/33, os7/5/10, am/20/22, ar/16/27, ar1/5/15, ar2/3/32, myA/27/38, my/8/30, myB/15/20, myC/12/18, myD/10/15, cl/5/60, i433/14/15, i395/20/17, i362/21/21, i335/23/20, ihl/31/35, i300/19/21, icard/18/18, psg/26/24, sem1/2/13, tel/10/15, tel1/5/12, i304/21/22, myida/25/14, cyg/15/28, vcmm/10/18, mm/2/19, vuc/6/17, vener/29/25, veB/33/2, veC/7/17, v3/5/10, v2/5/8, v17/3/12}
  {\draw[hpd] ($(\n)+(-\a,0)$) -- ($(\n)+(\b,0)$);}

% node ages and numbers
\foreach \x/\y/\t in {907/57/477, 923/66/482, 905/84/522, 908/144/485, 938/150/446, 950/195/421, 923/229/482, 940/296/414, 923/304/478, 907/317/475, 923/322/470, 908/342/466, 930/346/433, 946/364/395, 971/356/335, 986/372/300, 960/396/362, 983/437/304, 1020/459/213}
  {\node[rage] (ag\x-\y) at (\x,\y) {\t};}
\foreach \x/\y/\t in {893/89/1, 925/56/3, 921/148/2, 988/103/4, 1017/128/5, 1080/178/7, 1043/194/6, 1035/224/8, 948/299/10, 913/304/9, 990/311/11, 927/336/12, 1022/361/13, 1062/357/14, 1087/368/15, 1024/451/17, 1050/508/18}
  {\node[rid] (id\x-\y) at (\x,\y) {\t};}

% geological time scale
\foreach \a/\b/\c/\t in {541/485/tC/C, 485/444/tO/O, 444/419/tS/S, 419/359/tD/De, 359/299/tCa/Ca, 299/252/tP/P, 252/201/tT/T, 201/145/tJ/Ju, 145/66/tK/Cr, 66/23/tPg/Pa, 23/0/tN/N}
  {\fill[\c] ({1117-0.416*\a},526) rectangle ({1117-0.416*\b},532);
   \node[tax] (gt\a) at ({1117-0.208*(\a+\b)},529) {\t};}
\draw[black!60, line width=0.4pt] (892,532) -- (1117,532);
\foreach \m in {0,50,...,500}
  {\draw[black!60, line width=0.4pt] ({1117-0.416*\m},532) -- ({1117-0.416*\m},534);
   \node[tax] (tk\m) at ({1117-0.416*\m},538.5) {\m};}
\node[tax,anchor=west] (tkMa) at (1119,530) {Ma};

\end{tikzpicture}
\end{document}
